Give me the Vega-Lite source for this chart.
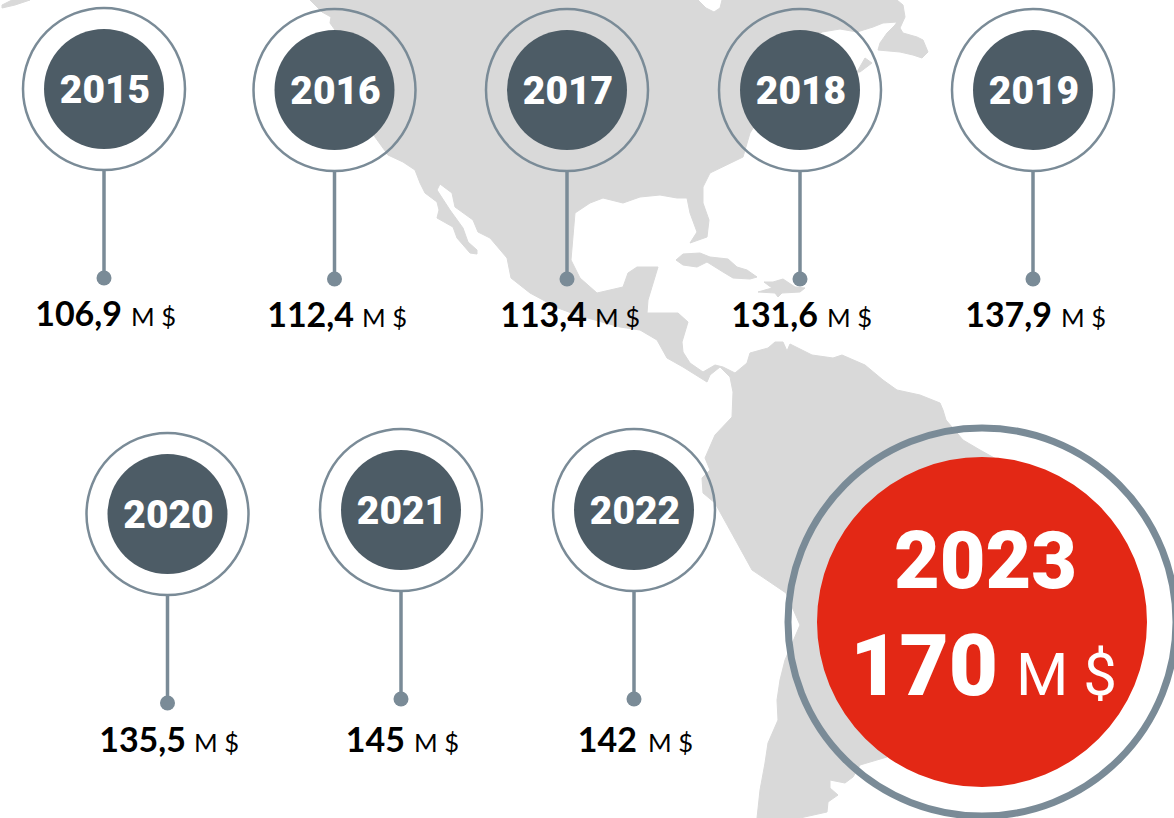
{"$schema":"https://vega.github.io/schema/vega-lite/v6.json","width":1174,"height":818,"padding":0,"autosize":{"type":"none"},"background":"#ffffff","config":{"view":{"stroke":null}},
"datasets":{"revenue":[{"year":2015,"value":106.9,"label":"106,9","unit":"M $"},{"year":2016,"value":112.4,"label":"112,4","unit":"M $"},{"year":2017,"value":113.4,"label":"113,4","unit":"M $"},{"year":2018,"value":131.6,"label":"131,6","unit":"M $"},{"year":2019,"value":137.9,"label":"137,9","unit":"M $"},{"year":2020,"value":135.5,"label":"135,5","unit":"M $"},{"year":2021,"value":145,"label":"145","unit":"M $"},{"year":2022,"value":142,"label":"142","unit":"M $"},{"year":2023,"value":170,"label":"170","unit":"M $"}]},
"layer":[
{"data":{"values":[{"type":"Feature","properties":{"name":"Americas"},"geometry":{"type":"Polygon","coordinates":[[[310,0],[322,12],[331,17],[330,23],[335,30],[375,137],[388,155],[403,162],[415,170],[420,183],[425,193],[437,202],[439,210],[437,218],[453,227],[457,238],[470,253],[477,254],[477,250],[468,242],[463,228],[450,210],[437,190],[440,184],[452,193],[455,207],[473,220],[478,232],[490,238],[507,258],[511,278],[530,293],[558,308],[577,315],[620,327],[640,330],[657,340],[667,358],[683,367],[707,382],[710,375],[720,367],[730,377],[733,392],[732,417],[715,435],[705,458],[710,470],[702,478],[703,493],[715,503],[752,570],[786,593],[800,625],[785,660],[780,680],[777,700],[778,720],[768,743],[765,763],[760,790],[757,818],[800,818],[827,812],[828,802],[838,795],[830,788],[830,780],[845,783],[853,777],[860,765],[887,757],[960,600],[998,460],[980,450],[963,440],[946,420],[943,410],[940,403],[920,395],[897,390],[883,380],[865,365],[842,355],[833,358],[812,355],[790,344],[787,351],[783,342],[775,342],[768,348],[750,353],[747,363],[735,373],[723,367],[715,365],[703,372],[690,363],[683,352],[682,342],[688,322],[678,313],[647,313],[648,300],[658,267],[637,267],[628,273],[623,287],[597,293],[580,278],[571,260],[575,213],[590,203],[603,198],[623,203],[640,197],[660,195],[677,198],[687,198],[690,213],[697,232],[690,243],[707,237],[709,220],[703,203],[703,187],[710,173],[743,157],[750,133],[790,70],[822,32],[840,29],[857,32],[873,27],[883,23],[897,22],[895,25],[887,33],[880,43],[878,50],[900,52],[913,55],[922,58],[928,52],[923,40],[917,37],[903,33],[900,28],[905,17],[903,5],[897,0],[722,0],[720,8],[714,12],[706,8],[698,0],[310,0]]]}},
{"type":"Feature","properties":{"name":"Cuba"},"geometry":{"type":"Polygon","coordinates":[[[676,260],[683,254],[700,253],[710,257],[728,259],[737,267],[747,270],[757,277],[750,279],[733,278],[723,272],[707,262],[697,267],[683,265],[676,260]]]}},
{"type":"Feature","properties":{"name":"Hispaniola"},"geometry":{"type":"Polygon","coordinates":[[[764,282],[773,282],[783,279],[795,287],[805,288],[800,292],[782,293],[778,297],[775,293],[758,292],[772,288],[768,285],[764,282]]]}},
{"type":"Feature","properties":{"name":"Alaska tip"},"geometry":{"type":"Polygon","coordinates":[[[2,8],[15,5],[30,0],[12,0],[2,5],[2,8]]]}},
{"type":"Feature","properties":{"name":"Nova Scotia islet"},"geometry":{"type":"Polygon","coordinates":[[[857,72],[865,58],[872,63],[860,72],[857,72]]]}}]},
"mark":{"type":"geoshape","fill":"#d9d9d9","stroke":"#d9d9d9","strokeWidth":1,"strokeJoin":"round"},"projection":{"type":"identity","scale":1,"translate":[0,0]},"encoding":{}},
{"data":{"name":"revenue"},"resolve":{"scale":{"x":"independent","y":"independent"}},
"encoding":{"x":{"field":"year","type":"quantitative","axis":null,"scale":{"zero":false,"nice":false,"domain":[2015,2016,2017,2018,2019,2020,2021,2022,2023],"range":[104,334.5,567,800,1033,167.5,401,634,982]}},"y":{"field":"year","type":"quantitative","axis":null,"scale":{"zero":false,"nice":false,"domain":[2015,2016,2017,2018,2019,2020,2021,2022,2023],"range":[89,90,90,90,90,514,510,510,622]}}},
"layer":[
{"transform":[{"filter":"datum.year < 2023"}],"mark":{"type":"point","filled":false,"size":26244,"stroke":"#7a8b97","strokeWidth":2.5,"opacity":1}},
{"transform":[{"filter":"datum.year < 2023"}],"mark":{"type":"circle","size":14400,"fill":"#4d5c66","opacity":1}},
{"transform":[{"filter":"datum.year == 2023"}],"mark":{"type":"point","filled":false,"size":150544,"stroke":"#7a8b97","strokeWidth":7,"opacity":1}},
{"transform":[{"filter":"datum.year == 2023"}],"mark":{"type":"circle","size":108900,"fill":"#e32815","opacity":1}},
{"transform":[{"filter":"datum.year < 2023"}],"mark":{"type":"rule","stroke":"#7a8b97","strokeWidth":3.5,"y2Offset":108},"encoding":{"y":{"field":"year","type":"quantitative","axis":null,"scale":{"zero":false,"nice":false,"domain":[2015,2016,2017,2018,2019,2020,2021,2022],"range":[170,171,171,171,171,595,591,591]}},"y2":{"field":"year"}}},
{"transform":[{"filter":"datum.year < 2023"}],"mark":{"type":"circle","size":225,"fill":"#7a8b97","opacity":1},"encoding":{"y":{"field":"year","type":"quantitative","axis":null,"scale":{"zero":false,"nice":false,"domain":[2015,2016,2017,2018,2019,2020,2021,2022],"range":[278,279,279,279,279,703,699,699]}}}},
{"transform":[{"filter":"datum.year < 2023"}],"mark":{"type":"text","font":"Roboto","fontWeight":900,"fontSize":39,"dx":1,"fill":"#ffffff","align":"center","baseline":"alphabetic"},"encoding":{"text":{"field":"year","type":"nominal"},"y":{"field":"year","type":"quantitative","axis":null,"scale":{"zero":false,"nice":false,"domain":[2015,2016,2017,2018,2019,2020,2021,2022],"range":[103,104,104,104,104,528,524,524]}}}},
{"transform":[{"filter":"datum.year < 2023"}],"mark":{"type":"text","font":"Lato","fontWeight":700,"fontSize":34,"fill":"#000000","align":"right","baseline":"alphabetic"},"encoding":{"text":{"field":"label","type":"nominal"},"x":{"field":"year","type":"quantitative","axis":null,"scale":{"zero":false,"nice":false,"domain":[2015,2016,2017,2018,2019,2020,2021,2022],"range":[122,354,587,818,1052,186,405,637]}},"y":{"field":"year","type":"quantitative","axis":null,"scale":{"zero":false,"nice":false,"domain":[2015,2016,2017,2018,2019,2020,2021,2022],"range":[326,327,327,327,327,752,752,752]}}}},
{"transform":[{"filter":"datum.year < 2023"}],"mark":{"type":"text","font":"Lato","fontWeight":400,"fontSize":25.5,"fill":"#000000","align":"left","baseline":"alphabetic"},"encoding":{"text":{"field":"unit","type":"nominal"},"x":{"field":"year","type":"quantitative","axis":null,"scale":{"zero":false,"nice":false,"domain":[2015,2016,2017,2018,2019,2020,2021,2022],"range":[131,362,595,827,1061,194,414,648]}},"y":{"field":"year","type":"quantitative","axis":null,"scale":{"zero":false,"nice":false,"domain":[2015,2016,2017,2018,2019,2020,2021,2022],"range":[326,327,327,327,327,752,752,752]}}}},
{"transform":[{"filter":"datum.year == 2023"}],"mark":{"type":"text","font":"Roboto","fontWeight":900,"fontSize":79,"fill":"#ffffff","align":"center","baseline":"alphabetic"},"encoding":{"text":{"field":"year","type":"nominal"},"x":{"field":"year","type":"quantitative","axis":null,"scale":{"zero":false,"nice":false,"domain":[2023,2024],"range":[985.5,1000]}},"y":{"field":"year","type":"quantitative","axis":null,"scale":{"zero":false,"nice":false,"domain":[2023,2024],"range":[588,600]}}}},
{"transform":[{"filter":"datum.year == 2023"}],"mark":{"type":"text","font":"Roboto","fontWeight":900,"fontSize":85,"fill":"#ffffff","align":"right","baseline":"alphabetic"},"encoding":{"text":{"field":"label","type":"nominal"},"x":{"field":"year","type":"quantitative","axis":null,"scale":{"zero":false,"nice":false,"domain":[2023,2024],"range":[998,1010]}},"y":{"field":"year","type":"quantitative","axis":null,"scale":{"zero":false,"nice":false,"domain":[2023,2024],"range":[695,710]}}}},
{"transform":[{"filter":"datum.year == 2023"}],"mark":{"type":"text","font":"Roboto","fontWeight":400,"fontSize":60,"fill":"#ffffff","align":"left","baseline":"alphabetic"},"encoding":{"text":{"field":"unit","type":"nominal"},"x":{"field":"year","type":"quantitative","axis":null,"scale":{"zero":false,"nice":false,"domain":[2023,2024],"range":[1016,1030]}},"y":{"field":"year","type":"quantitative","axis":null,"scale":{"zero":false,"nice":false,"domain":[2023,2024],"range":[695,710]}}}}
]}]}
